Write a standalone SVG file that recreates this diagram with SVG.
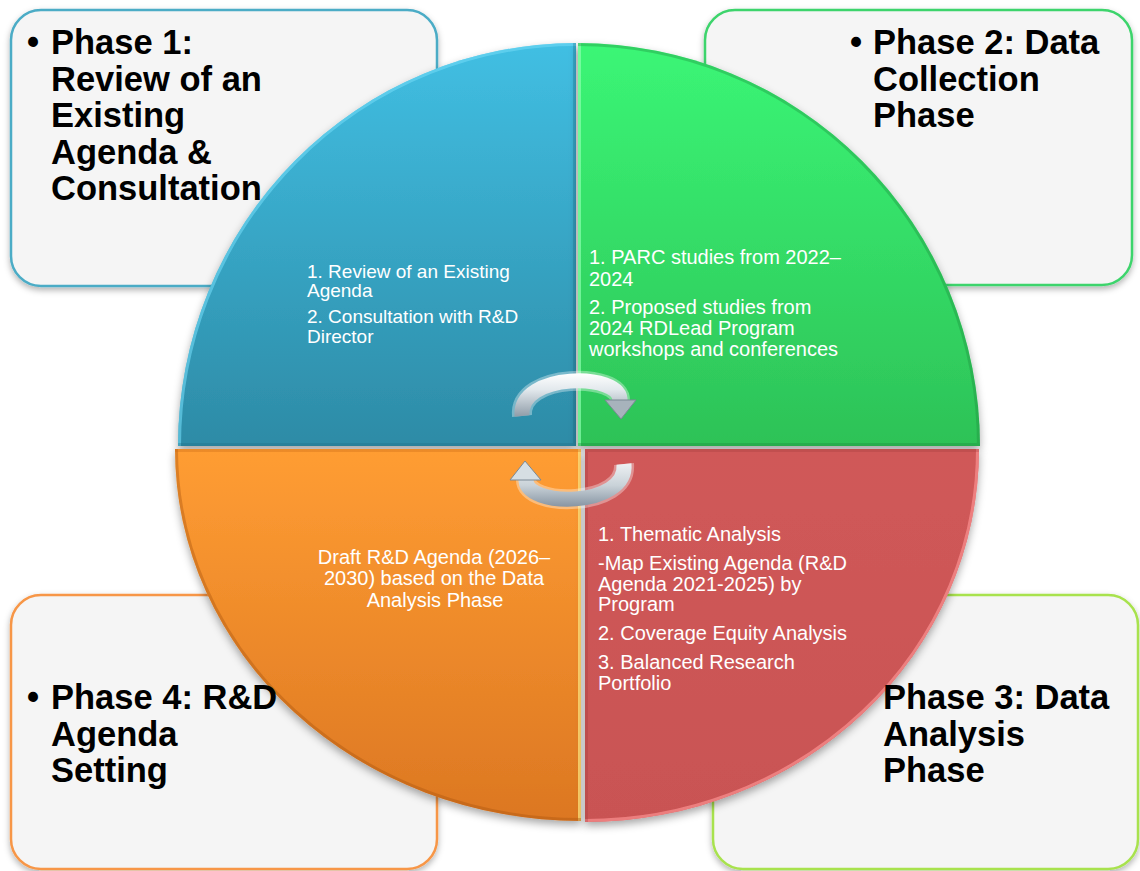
<svg xmlns="http://www.w3.org/2000/svg" width="1140" height="871" viewBox="0 0 1140 871">
<style>
.box{fill:#F5F5F5;stroke-width:2.5;filter:url(#sh)}
.head{font-family:"Liberation Sans",Arial,sans-serif;font-weight:bold;font-size:34.5px;fill:#000}
.body{font-family:"Liberation Sans",Arial,sans-serif;font-size:20px;fill:#FFFFFF}
.bevel{fill:none;stroke-width:6}
</style>
<defs>
<filter id="sh" x="-10%" y="-10%" width="120%" height="125%"><feDropShadow dx="0" dy="3" stdDeviation="3" flood-color="#000" flood-opacity="0.3"/></filter>
<filter id="csh" x="-10%" y="-10%" width="120%" height="125%"><feDropShadow dx="0" dy="4" stdDeviation="4" flood-color="#000" flood-opacity="0.35"/></filter>
<linearGradient id="gBlue" x1="0" y1="0" x2="0" y2="1"><stop offset="0" stop-color="#41BFE3"/><stop offset="1" stop-color="#2D8BA6"/></linearGradient>
<linearGradient id="gGreen" x1="0" y1="0" x2="0" y2="1"><stop offset="0" stop-color="#3BF676"/><stop offset="1" stop-color="#2DC257"/></linearGradient>
<linearGradient id="gOrange" x1="0" y1="0" x2="0" y2="1"><stop offset="0" stop-color="#FF9D33"/><stop offset="1" stop-color="#DC7722"/></linearGradient>
<linearGradient id="gRed" x1="0" y1="0" x2="0" y2="1"><stop offset="0" stop-color="#D05959"/><stop offset="1" stop-color="#C95353"/></linearGradient>
<linearGradient id="aTop" gradientUnits="userSpaceOnUse" x1="0" y1="373" x2="0" y2="420"><stop offset="0" stop-color="#FFFFFF"/><stop offset="0.35" stop-color="#E3E9ED"/><stop offset="1" stop-color="#8593A0"/></linearGradient>
<linearGradient id="aBot" gradientUnits="userSpaceOnUse" x1="0" y1="458" x2="0" y2="508"><stop offset="0" stop-color="#F6F8F9"/><stop offset="0.55" stop-color="#C9D2D8"/><stop offset="1" stop-color="#8391A0"/></linearGradient>
<clipPath id="cBlue"><path d="M576,446 H178 A398,403 0 0 1 576,43 Z"/></clipPath>
<clipPath id="cGreen"><path d="M578,446 V43 A402,403 0 0 1 980,446 Z"/></clipPath>
<clipPath id="cOrange"><path d="M581,449 V821 A406,372 0 0 1 175,449 Z"/></clipPath>
<clipPath id="cRed"><path d="M585,449 H979 A394,373 0 0 1 585,822 Z"/></clipPath>
</defs>

<g id="phase1-box"><rect class="box" x="11" y="10" width="426" height="276" rx="30" stroke="#4BACC6"/></g>
<g id="phase2-box"><rect class="box" x="705" y="10" width="427" height="275" rx="30" stroke="#3ED46C"/></g>
<g id="phase4-box"><rect class="box" x="11" y="595" width="426" height="274" rx="30" stroke="#F79646"/></g>
<g id="phase3-box"><rect class="box" x="713" y="595" width="425" height="274" rx="30" stroke="#A8E24E"/></g>

<g id="quadrant-blue">
<path d="M576,446 H178 A398,403 0 0 1 576,43 Z" fill="url(#gBlue)" filter="url(#csh)"/>
<g clip-path="url(#cBlue)"><path class="bevel" d="M178,446 A398,403 0 0 1 576,43" stroke="#6FD8F5" stroke-opacity="0.6"/><path class="bevel" d="M576,43 V446 H178" stroke="#1F6E86" stroke-opacity="0.3"/></g>
<text class="body" style="font-size:19px"><tspan x="307" y="278">1. Review of an Existing</tspan><tspan x="307" y="297">Agenda</tspan><tspan x="307" y="323">2. Consultation with R&amp;D</tspan><tspan x="307" y="343">Director</tspan></text>
</g>
<g id="quadrant-green">
<path d="M578,446 V43 A402,403 0 0 1 980,446 Z" fill="url(#gGreen)" filter="url(#csh)"/>
<g clip-path="url(#cGreen)"><path class="bevel" d="M578,446 V43" stroke="#8CFFAE" stroke-opacity="0.7"/><path class="bevel" d="M578,43 A402,403 0 0 1 980,446 H578" stroke="#1E8A3C" stroke-opacity="0.35"/></g>
<text class="body"><tspan x="589" y="264">1. PARC studies from 2022–</tspan><tspan x="589" y="286">2024</tspan><tspan x="589" y="314">2. Proposed studies from</tspan><tspan x="589" y="335">2024 RDLead Program</tspan><tspan x="589" y="356">workshops and conferences</tspan></text>
</g>
<g id="quadrant-orange">
<path d="M581,449 V821 A406,372 0 0 1 175,449 Z" fill="url(#gOrange)" filter="url(#csh)"/>
<g clip-path="url(#cOrange)"><path class="bevel" d="M581,449 V821" stroke="#FFE07A" stroke-opacity="0.8"/><path class="bevel" d="M581,821 A406,372 0 0 1 175,449" stroke="#A9560F" stroke-opacity="0.4"/><path class="bevel" d="M175,449 H581" stroke="#C96A18" stroke-opacity="0.35"/></g>
<text class="body" text-anchor="middle"><tspan x="434" y="564">Draft R&amp;D Agenda (2026–</tspan><tspan x="434" y="585">2030) based on the Data</tspan><tspan x="435" y="607">Analysis Phase</tspan></text>
</g>
<g id="quadrant-red">
<path d="M585,449 H979 A394,373 0 0 1 585,822 Z" fill="url(#gRed)" filter="url(#csh)"/>
<g clip-path="url(#cRed)"><path class="bevel" d="M979,449 A394,373 0 0 1 585,822" stroke="#F58A8A" stroke-opacity="0.8"/><path class="bevel" d="M585,822 V449 H979" stroke="#9E3A3A" stroke-opacity="0.3"/></g>
<text class="body"><tspan x="598" y="541">1. Thematic Analysis</tspan><tspan x="598" y="570">-Map Existing Agenda (R&amp;D</tspan><tspan x="598" y="591">Agenda 2021-2025) by</tspan><tspan x="598" y="611">Program</tspan><tspan x="598" y="640">2. Coverage Equity Analysis</tspan><tspan x="598" y="669">3. Balanced Research</tspan><tspan x="598" y="690">Portfolio</tspan></text>
</g>

<g id="connectors">
<g id="arrow-top">
<path d="M522,416 C518,372 622,372 620,401" fill="none" stroke="#FFFFFF" stroke-opacity="0.35" stroke-width="20"/>
<path d="M522,416 C518,372 622,372 620,401" fill="none" stroke="url(#aTop)" stroke-width="15"/>
<polygon points="605,400 636,400 621,419" fill="#A7B3BC" stroke="#7B8994" stroke-width="1"/>
</g>
<g id="arrow-bottom">
<path d="M624,464 C628,508 524,508 526,479" fill="none" stroke="#FFFFFF" stroke-opacity="0.35" stroke-width="20"/>
<path d="M624,464 C628,508 524,508 526,479" fill="none" stroke="url(#aBot)" stroke-width="15"/>
<polygon points="541,480 510,480 525,461" fill="#D6DEE3" stroke="#7B8994" stroke-width="1"/>
</g>
</g>

<g id="phase1-label" class="head"><text x="27" y="54">•</text><text><tspan x="51" y="54">Phase 1:</tspan><tspan x="51" y="90.5">Review of an</tspan><tspan x="51" y="127">Existing</tspan><tspan x="51" y="163.5">Agenda &amp;</tspan><tspan x="51" y="200">Consultation</tspan></text></g>
<g id="phase2-label" class="head"><text x="850" y="54">•</text><text><tspan x="873" y="54">Phase 2: Data</tspan><tspan x="873" y="90.5">Collection</tspan><tspan x="873" y="127">Phase</tspan></text></g>
<g id="phase4-label" class="head"><text x="27" y="709">•</text><text><tspan x="51" y="709">Phase 4: R&amp;D</tspan><tspan x="51" y="745.5">Agenda</tspan><tspan x="51" y="782">Setting</tspan></text></g>
<g id="phase3-label" class="head"><text><tspan x="883" y="709">Phase 3: Data</tspan><tspan x="883" y="745.5">Analysis</tspan><tspan x="883" y="782">Phase</tspan></text></g>
</svg>
